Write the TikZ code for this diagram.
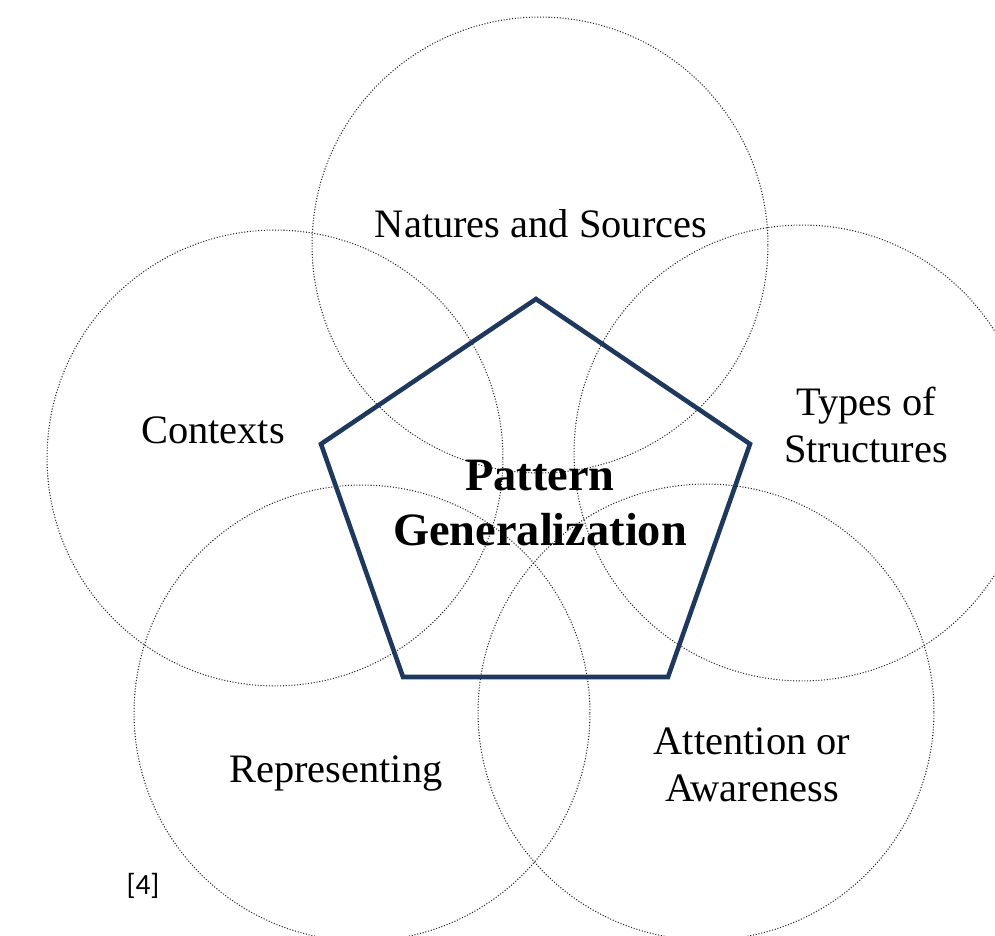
\documentclass[tikz,border=0pt]{standalone}
\usepackage{fontspec}
\setmainfont{Liberation Serif}
\newfontfamily\refnumfont{Carlito}
\definecolor{pentablue}{RGB}{30,57,93}

\begin{document}
\begin{tikzpicture}[x=0.02cm, y=-0.02cm]
        \useasboundingbox (0,0) rectangle (995,936);
        \clip (0,0) rectangle (995,936);
        % the five overlapping rings
        \begin{scope}[every node/.style={draw=black!85, line width=0.6pt, densely dotted, circle, minimum size=9.12cm, inner sep=0}]
                \node (nat) at (540,245) {};
                \node (con) at (275,458) {};
                \node (typ) at (802,453) {};
                \node (rep) at (362,713) {};
                \node (att) at (706,712) {};
        \end{scope}
        % pentagon in the middle
        \coordinate (pt) at (536,299);
        \coordinate (pr) at (750,444);
        \coordinate (pbr) at (668,677);
        \coordinate (pbl) at (403,677);
        \coordinate (pl) at (321,444);
        \draw[pentablue, line width=2.6pt, line join=miter] (pt) -- (pr) -- (pbr) -- (pbl) -- (pl) -- cycle;
        % labels
        \begin{scope}[every node/.style={align=center, inner sep=0, font=\fontsize{23}{26.6}\selectfont}]
                \node[anchor=base] (natl) at (541,237) {Natures and Sources};
                \node[anchor=base] (conl) at (213,443) {Contexts};
                \node (typl) at (866,425) {Types of\\Structures};
                \node[anchor=base] (repl) at (336,782) {Representing};
                \node (attl) at (752,765) {Attention or\\Awareness};
                \node[font=\fontsize{26.4}{31.8}\selectfont\bfseries] (pg) at (540,503) {Pattern\\Generalization};
        \end{scope}
        \node[anchor=base, inner sep=0, font=\refnumfont\fontsize{16.7}{20}\selectfont] (ref) at (143,894) {[4]};
\end{tikzpicture}
\end{document}
